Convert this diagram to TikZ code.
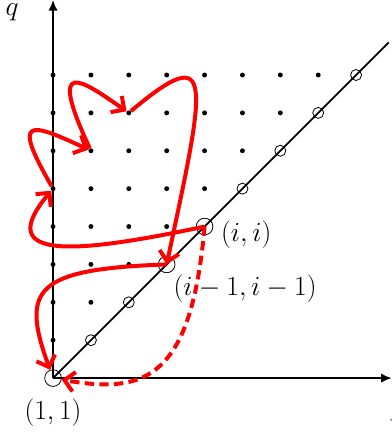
\documentclass[tikz,border=0pt]{standalone}
\usepackage{amsmath,amssymb}
\usepackage{tikz}
\usetikzlibrary{arrows.meta}

\begin{document}
\begin{tikzpicture}[font=\fontsize{20}{24}\selectfont,
  axis/.style={line width=1.3pt, -{Latex[length=8pt,width=7pt]}},
  dot/.style={circle, fill, inner sep=0pt, minimum size=0.13cm},
  ring/.style={circle, draw, inner sep=0pt, minimum size=0.29cm, line width=0.6pt},
  bigring/.style={ring, minimum size=0.44cm},
  walk/.style={red, line width=3pt, -{Straight Barb[length=2.6mm,width=5.2mm]}},
  jump/.style={walk, dash pattern=on 7pt off 4pt}]
\useasboundingbox (-1.4,-1.45) rectangle (8.93,9.98);
% axes and diagonal
\draw[axis] (0,0) -- (0,9.98);
\draw[axis] (0,0) -- (8.94,0);
\draw[line width=1.3pt] (0,0) -- (8.86,8.86);
% grid points above the diagonal
\foreach \y in {1,...,8} {
  \pgfmathtruncatemacro{\xmax}{\y-1}
  \foreach \x in {0,...,\xmax}
    \node[dot] (g\x\y) at (\x,\y) {};
}
% points on the diagonal
\foreach \k in {1,2,5,6,7,8}
  \node[ring] (d\k) at (\k,\k) {};
\node[bigring] (o) at (0,0) {};
\node[bigring] (im) at (3,3) {};
\node[bigring] (ii) at (4,4) {};
% labels
\node (q) at (-1.08,9.66) {$q$};
\node[anchor=west] (p) at (8.8,-0.9) {$p$};
\node (l11) at (0,-0.9) {$(1,1)$};
\node (lii) at (5.1,3.78) {$(i,i)$};
\node (lim) at (5.07,2.35) {$(i-1,i-1)$};
% the walk
\draw[walk] (ii.center) .. controls +(192:3.5) and +(230:2.5) .. (g05);
\draw[walk] (g05) .. controls +(120:2.2) and +(155:1.8) .. (g16);
\draw[walk] (g16) .. controls +(115:2.8) and +(145:1.5) .. (g27);
\draw[walk] (g27) .. controls +(40:3) and +(78:5) .. (im.center);
\draw[walk] (im.center) .. controls +(182:3.5) and +(110:2.5) .. (o);
\draw[jump] (ii.center) .. controls +(-95:4) and +(-10:2.5) .. (o);
\end{tikzpicture}
\end{document}
